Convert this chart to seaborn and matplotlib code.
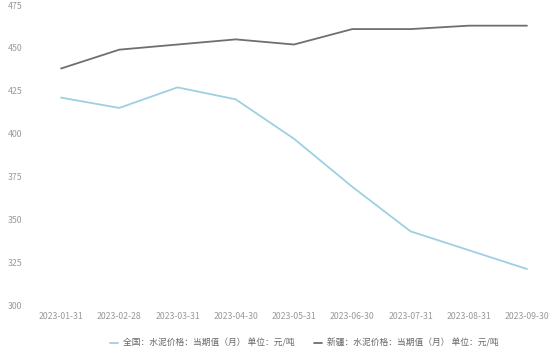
import matplotlib
matplotlib.use("Agg")
import matplotlib.pyplot as plt
import pandas as pd
import seaborn as sns

# Monthly cement prices (yuan / ton)
dates = ["2023-01-31", "2023-02-28", "2023-03-31", "2023-04-30", "2023-05-31",
         "2023-06-30", "2023-07-31", "2023-08-31", "2023-09-30"]
national = [421, 415, 427, 420, 397, 369, 343, 332, 321]
xinjiang = [438, 449, 452, 455, 452, 461, 461, 463, 463]
yticks = [300, 325, 350, 375, 400, 425, 450, 475]

label_national = "全国：水泥价格：当期值（月） 单位：元/吨"
label_xinjiang = "新疆：水泥价格：当期值（月） 单位：元/吨"

df = pd.DataFrame({"date": dates * 2,
                   "value": national + xinjiang,
                   "series": [label_national] * len(dates) + [label_xinjiang] * len(dates)})

sns.set_theme(style="white")
plt.rcParams["font.family"] = ["Noto Sans CJK SC", "DejaVu Sans"]

fig = plt.figure(figsize=(5.6, 3.52), dpi=100)
ax = fig.add_axes([0.057, 0.1335, 0.936, 0.852])

palette = {label_national: "#9dd0e1", label_xinjiang: "#6f6f6f"}
sns.lineplot(data=df, x="date", y="value", hue="series", palette=palette,
             linewidth=1.3, sort=False, ax=ax)

ax.set_xlim(-0.5, len(dates) - 0.5)
ax.set_ylim(300, 475)
ax.set_yticks(yticks)
ax.set_xlabel("")
ax.set_ylabel("")
sns.despine(ax=ax, left=True, bottom=True)
ax.tick_params(axis="both", colors="#9a9a9a", labelsize=6.3, length=0)
ax.tick_params(axis="x", pad=5)
ax.tick_params(axis="y", pad=7)

leg = ax.legend(loc="upper center", bbox_to_anchor=(0.52, -0.085), ncol=2, frameon=False,
                fontsize=6.3, handlelength=0.9, handletextpad=0.6, columnspacing=2.2)
for t in leg.get_texts():
    t.set_color("#666666")

fig.savefig("out.png", dpi=100)
